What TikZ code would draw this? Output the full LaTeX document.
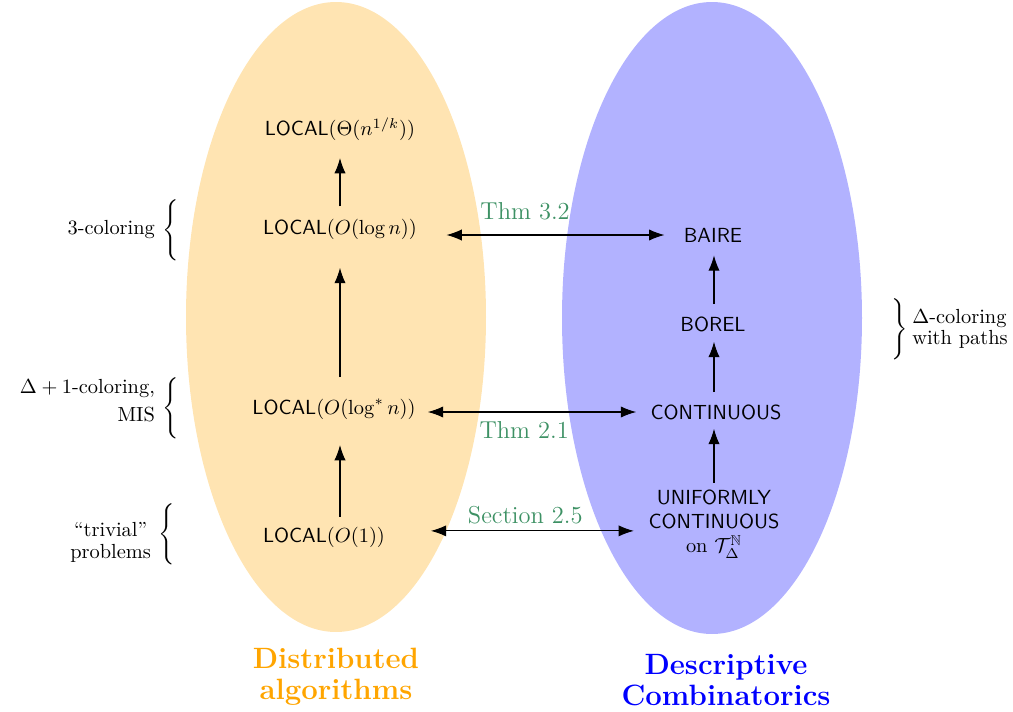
\documentclass[tikz,border=0pt]{standalone}
\usepackage{amsmath, amsfonts, amssymb}
\usepackage{tikz}
\usetikzlibrary{arrows.meta, positioning}
\definecolor{thmgreen}{RGB}{61,145,100}
\definecolor{distorange}{RGB}{255,165,0}
\newcommand{\bracel}[1]{$\left\{\vrule height #1 depth #1 width 0pt\right.$}
\newcommand{\bracer}[1]{$\left.\vrule height #1 depth #1 width 0pt\right\}$}

\tikzset{
	up/.style={-{Latex[length=7.5pt,width=5.5pt]}, line width=0.5pt},
	both/.style={{Latex[length=7.5pt,width=5.5pt]}-{Latex[length=7.5pt,width=5.5pt]}, line width=0.5pt},
	thm/.style={text=thmgreen, font=\large},
	side/.style={inner sep=0pt},
}

\begin{document}
\begin{tikzpicture}[x=0.01722cm, y=0.01722cm]
	\useasboundingbox (0,0) rectangle (1013,-712);
	\fill[distorange!30] (336,-317) ellipse (150 and 315);
	\fill[blue!30] (712,-318) ellipse (150 and 316);

	\coordinate (axL) at (340,0);
	\coordinate (axR) at (714,0);

	\node (lTheta) at (340,-129) {\textsf{LOCAL}$(\Theta(n^{1/k}))$};
	\node (lLog) at (340,-229) {\textsf{LOCAL}$(O(\log n))$};
	\node (lStar) at (334,-409) {\textsf{LOCAL}$(O(\log^* n))$};
	\node (lOne) at (324,-537) {\textsf{LOCAL}$(O(1))$};

	\node (baire) at (713,-235) {\textsf{BAIRE}};
	\node (borel) at (713,-324) {\textsf{BOREL}};
	\node (cont) at (716,-412) {\textsf{CONTINUOUS}};
	\node[align=center, inner sep=0pt] (unif) at (714,-524) {\textsf{UNIFORMLY}\\\textsf{CONTINUOUS}\\on $\mathcal{T}_\Delta^{\mathbb{N}}$};

	\draw[up, shorten <=1.5pt, shorten >=9pt] (axL |- lOne.north) -- (axL |- lStar.south);
	\draw[up, shorten <=7pt, shorten >=10.5pt] (axL |- lStar.north) -- (axL |- lLog.south);
	\draw[up, shorten <=2.5pt, shorten >=5pt] (axL |- lLog.north) -- (axL |- lTheta.south);

	\draw[up, shorten <=3pt, shorten >=1pt] (axR |- unif.north) -- (axR |- cont.south);
	\draw[up, shorten <=2.5pt, shorten >=1.5pt] (axR |- cont.north) -- (axR |- borel.south);
	\draw[up, shorten <=2.5pt, shorten >=3pt] (axR |- borel.north) -- (axR |- baire.south);

	\draw[both, shorten <=11pt, shorten >=6pt] (lLog.east |- baire.west) -- node[thm, above=4pt, pos=0.4] {Thm 3.2} (baire.west);
	\draw[both, shorten <=2.5pt, shorten >=3.5pt] (lStar.east |- cont.west) -- node[thm, below=1pt, pos=0.46] {Thm 2.1} (cont.west);
	\draw[both, shorten <=19pt, shorten >=7pt] ([yshift=3pt]lOne.east) -- node[thm, above, pos=0.52] {Section 2.5} ([yshift=3pt]lOne.east -| unif.west);

	\node[side] (br1) at (172,-230) {\bracel{12.5pt}};
	\node[left=0pt of br1] (t1) {3-coloring};
	\node[side] (br2) at (172,-408) {\bracel{12.5pt}};
	\node[left=0pt of br2, align=right, yshift=3.5pt] (t2) {$\Delta+1$-coloring,\\[2pt]MIS};
	\node[side] (br3) at (168,-534) {\bracel{12.5pt}};
	\node[left=0pt of br3, align=center, yshift=-4pt] (t3) {``trivial''\\[-1pt]problems};
	\node[side] (br4) at (898,-329) {\bracer{12pt}};
	\node[right=0pt of br4, align=left, inner sep=2pt] (t4) {$\Delta$-coloring\\[-2pt]with paths};

	\node[font=\Large\bfseries, text=distorange, align=center] (dist) at (336,-677) {Distributed\\[-3pt]algorithms};
	\node[font=\Large\bfseries, text=blue, align=center] (desc) at (726,-680) {Descriptive\\[-3pt]Combinatorics};
\end{tikzpicture}
\end{document}
